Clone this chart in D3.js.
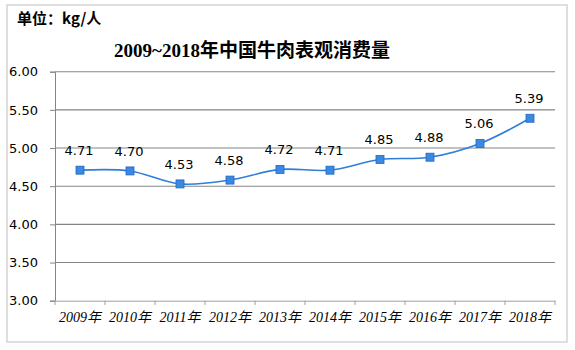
<!DOCTYPE html>
<html><head><meta charset="utf-8">
<script src="https://cdn.jsdelivr.net/npm/d3@7/dist/d3.min.js"></script>
<style>html,body{margin:0;padding:0;background:#fff;}svg{display:block;}</style>
</head><body>
<svg id="c" width="575" height="350"></svg>
<script>
const years = ["2009年","2010年","2011年","2012年","2013年","2014年","2015年","2016年","2017年","2018年"];
const consumption = [4.71, 4.70, 4.53, 4.58, 4.72, 4.71, 4.85, 4.88, 5.06, 5.39];
const yTicks = [3.00, 3.50, 4.00, 4.50, 5.00, 5.50, 6.00];
const titleText = "2009~2018年中国牛肉表观消费量";
const unitText = "单位：kg/人";

const svg = d3.select("#c");
svg.append("rect").attr("x",7).attr("y",5).attr("width",560).attr("height",337)
  .attr("fill","#fff").attr("stroke","#d4d4d4").attr("stroke-width",1.5);

const x = d3.scaleBand().domain(years).range([55,555]);
const y = d3.scaleLinear().domain([3,6]).range([300.7,71.7]);

svg.append("text").attr("x",17).attr("y",24).text(unitText)
  .attr("font-family","'Noto Sans CJK SC', 'Liberation Sans', sans-serif").attr("font-weight","bold").attr("font-size",15).attr("fill","#000");
svg.append("text").attr("x",252).attr("y",57).attr("text-anchor","middle").text(titleText)
  .attr("font-family","'Liberation Serif', 'Noto Sans CJK SC', serif").attr("font-weight","bold").attr("font-size",19).attr("fill","#000");

const gridColor = "#858585";
// Y axis with gridlines
const yAxis = svg.append("g").attr("transform","translate(55,0)")
  .call(d3.axisLeft(y).tickValues(yTicks).tickFormat(d3.format(".2f")).tickSize(5).tickPadding(12));
yAxis.select(".domain").attr("stroke",gridColor);
yAxis.selectAll(".tick line").attr("stroke",gridColor);
yAxis.selectAll(".tick text").attr("font-family","'DejaVu Sans', sans-serif").attr("font-size",13).attr("fill","#000");
svg.append("g").selectAll("line").data(yTicks.slice(1)).join("line")
  .attr("x1",55).attr("x2",555).attr("y1",d=>y(d)).attr("y2",d=>y(d))
  .attr("stroke",gridColor).attr("stroke-width",1.1);

// X axis
const xAxis = svg.append("g").attr("transform","translate(0,300.7)")
  .call(d3.axisBottom(x).tickSize(0).tickPadding(0).tickSizeOuter(0));
xAxis.select(".domain").attr("stroke","#a0a0a0");
xAxis.selectAll(".tick text").remove();
xAxis.selectAll(".tick line").remove();
const bounds = years.map(d=>x(d)).concat([x.range()[1]]);
svg.append("g").selectAll("line").data(bounds).join("line")
  .attr("x1",d=>d).attr("x2",d=>d).attr("y1",300.7).attr("y2",305).attr("stroke","#a0a0a0");
svg.append("g").selectAll("text").data(years).join("text")
  .attr("x",d=>x(d)+x.bandwidth()/2).attr("y",322).attr("text-anchor","middle")
  .attr("font-family","'Liberation Serif', 'Noto Sans CJK SC', serif").attr("font-style","italic")
  .attr("font-size",14).attr("fill","#000").text(d=>d);

// Line
const pts = years.map((d,i)=>[x(d)+x.bandwidth()/2, y(consumption[i])]);
svg.append("path").attr("d", d3.line().curve(d3.curveCatmullRom.alpha(0.5))(pts))
  .attr("fill","none").attr("stroke","#2f7fd9").attr("stroke-width",1.6);
svg.append("g").selectAll("rect").data(pts).join("rect")
  .attr("x",d=>d[0]-4).attr("y",d=>d[1]-4).attr("width",8).attr("height",8)
  .attr("fill","#3a89e3").attr("stroke","#2265c0").attr("stroke-width",0.8);
svg.append("g").selectAll("text").data(consumption).join("text")
  .attr("x",(d,i)=>pts[i][0]-1).attr("y",(d,i)=>pts[i][1]-15).attr("text-anchor","middle")
  .attr("font-family","'DejaVu Sans', sans-serif").attr("font-size",13).attr("fill","#000")
  .text(d=>d3.format(".2f")(d));
</script>
</body></html>
